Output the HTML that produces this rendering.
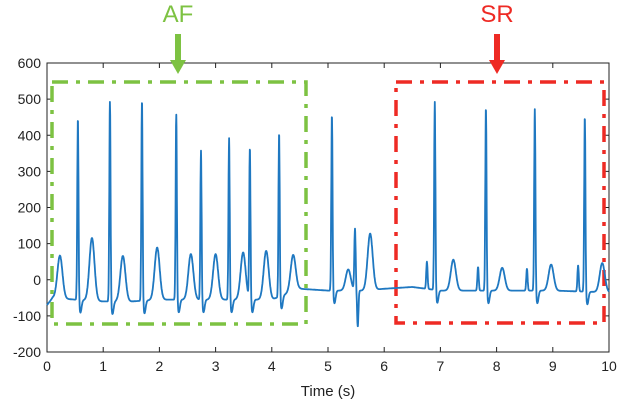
<!DOCTYPE html>
<html><head><meta charset="utf-8"><style>
html,body{margin:0;padding:0;background:#fff;}
svg{display:block;font-family:"Liberation Sans",Arial,sans-serif;}
</style></head><body>
<svg id="chart" width="626" height="408" viewBox="0 0 626 408">
<g id="axes"></g>
<g id="boxes"></g>
<g id="series"></g>
<text x="328" y="396" font-size="15" text-anchor="middle" fill="#222">Time (s)</text>
<text x="178" y="22" font-size="24" text-anchor="middle" fill="#7dc242">AF</text>
<text x="497" y="22" font-size="24" text-anchor="middle" fill="#ee2a24">SR</text>
<g><rect x="175" y="34" width="6" height="28" fill="#7dc242"/><polygon points="170,60 186,60 178,74" fill="#7dc242"/></g>
<g><rect x="494" y="34" width="6" height="28" fill="#ee2a24"/><polygon points="489,60 505,60 497,74" fill="#ee2a24"/></g>
</svg>
<script>
const xTicks=[0,1,2,3,4,5,6,7,8,9,10];
const yTicks=[-200,-100,0,100,200,300,400,500,600];
const rTimes=[0.55,1.12,1.69,2.30,2.74,3.24,3.61,4.13,5.07,6.90,7.81,8.68,9.57];
const rAmps=[450,495,500,460,360,395,365,410,460,495,480,475,455];
const tTimes=[0.23,0.80,1.35,1.96,2.56,3.00,3.49,3.90,4.38,5.36,5.75,7.23,8.10,8.97,9.88];
const tAmps=[110,165,110,135,115,115,120,125,110,65,175,95,70,80,85];
const pTimes=[6.76,7.67,8.54,9.45,5.48];
const pAmps=[50,35,30,40,140];
const qTimes=[5.53];
const qAmps=[-130];
const baseTimes=[0,0.1,0.5,1.0,1.5,2.0,2.5,3.0,3.5,4.0,4.5,5.0,5.6,6.0,6.5,7.0,8.0,9.0,10];
const baseVals=[-70,-50,-55,-60,-60,-55,-55,-55,-55,-55,-25,-30,-30,-25,-20,-30,-30,-30,-35];
const NS="http://www.w3.org/2000/svg";
const L=47,R=609,T=63,B=352;
const xs=t=>L+(t-0)/(10-0)*(R-L);
const ys=v=>B-(v+200)/800*(B-T);
function mk(tag,attrs,parent){const e=document.createElementNS(NS,tag);for(const k in attrs)e.setAttribute(k,attrs[k]);parent.appendChild(e);return e;}
const axes=document.getElementById('axes');
const frame=mk('rect',{x:L,y:T,width:R-L,height:B-T,fill:'none',stroke:'#222','stroke-width':1},axes);


xTicks.forEach(t=>{
  const x=xs(t);
  mk('line',{x1:x,y1:B,x2:x,y2:B-5,stroke:'#222'},axes);
  mk('line',{x1:x,y1:T,x2:x,y2:T+5,stroke:'#222'},axes);
  const tx=mk('text',{x:x,y:B+19,'font-size':14,'text-anchor':'middle',fill:'#222'},axes);
  tx.textContent=t;
  
  
});
yTicks.forEach(v=>{
  const y=ys(v);
  mk('line',{x1:L,y1:y,x2:L+5,y2:y,stroke:'#222'},axes);
  mk('line',{x1:R,y1:y,x2:R-5,y2:y,stroke:'#222'},axes);
  const tx=mk('text',{x:L-6,y:y+5,'font-size':14,'text-anchor':'end',fill:'#222'},axes);
  tx.textContent=v;
  
  
});
const boxes=document.getElementById('boxes');
const af=mk('rect',{x:52,y:82,width:254,height:242,fill:'none',stroke:'#7dc242','stroke-width':3.5,'stroke-dasharray':'16 8 4 8'},boxes);


const sr=mk('rect',{x:396,y:82,width:208,height:241,fill:'none',stroke:'#ee2a24','stroke-width':3.5,'stroke-dasharray':'16 8 4 8'},boxes);


function base(t){for(let i=0;i<baseTimes.length-1;i++){if(t<=baseTimes[i+1]){const f=(t-baseTimes[i])/(baseTimes[i+1]-baseTimes[i]);return baseVals[i]+f*(baseVals[i+1]-baseVals[i]);}}return baseVals[baseVals.length-1];}
const g=(t,c,s)=>Math.exp(-((t-c)*(t-c))/(2*s*s));
function ecg(t){
  let v=base(t);
  rTimes.forEach((c,i)=>{v+=(rAmps[i]-base(c))*g(t,c,0.011);v-=35*g(t,c+0.045,0.02);});
  tTimes.forEach((c,i)=>{v+=(tAmps[i]-base(c)-30)*g(t,c,0.045)*0.9;});
  pTimes.forEach((c,i)=>{v+=(pAmps[i]-base(c))*g(t,c,0.012);});
  qTimes.forEach((c,i)=>{v+=(qAmps[i]-base(c))*g(t,c,0.012);});
  return v;
}
let pts=[];
for(let t=0;t<=10.0001;t+=0.004){pts.push(xs(t).toFixed(1)+','+ys(ecg(t)).toFixed(1));}
const line=mk('polyline',{points:pts.join(' '),fill:'none',stroke:'#1f78c1','stroke-width':1.8,'stroke-linejoin':'round'},document.getElementById('series'));


</script>
</body></html>
